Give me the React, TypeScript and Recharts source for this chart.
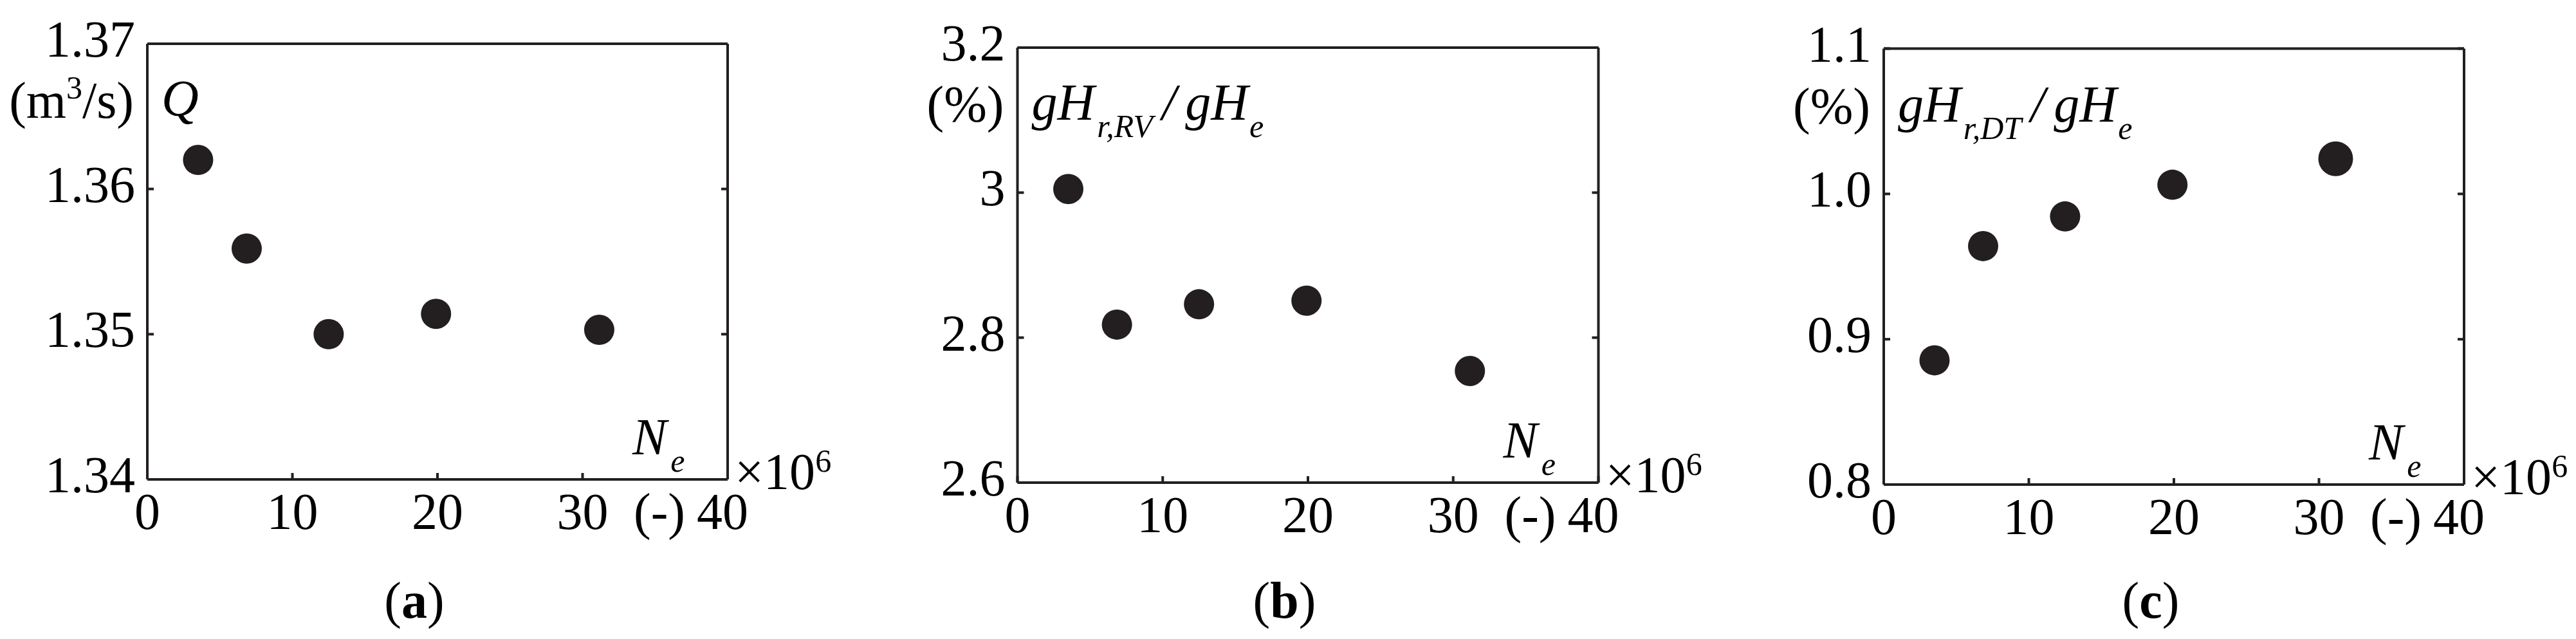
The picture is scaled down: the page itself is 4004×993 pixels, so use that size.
import React from "react";
import { Scatter, ScatterChart, XAxis, YAxis } from "recharts";

// mesh cell counts (x1e6), shared by the three panels
const meshSizes = [3.5, 6.85, 12.5, 19.9, 31.15];
const flowRate = [1.362, 1.3559, 1.35, 1.3514, 1.3503];
const lossRunner = [3.005, 2.818, 2.846, 2.851, 2.754];
const lossDraftTube = [0.8855, 0.9641, 0.9845, 1.0063, 1.0242];

const xTicks = [0, 10, 20, 30, 40];
const qTicks = [1.34, 1.35, 1.36, 1.37];
const qTickLabels = ["1.34", "1.35", "1.36", "1.37"];
const rvTicks = [2.6, 2.8, 3.0, 3.2];
const rvTickLabels = ["2.6", "2.8", "3", "3.2"];
const dtTicks = [0.8, 0.9, 1.0, 1.1];
const dtTickLabels = ["0.8", "0.9", "1.0", "1.1"];

const H = 993;
const INK = "#231f20";
const FONT = "'Liberation Serif', 'Times New Roman', serif";
const lineStyle = { stroke: INK, strokeWidth: 4 };

type Box = { l: number; r: number; t: number; b: number };

type PanelProps = {
  left: number;
  width: number;
  box: Box;
  yValues: number[];
  yDomain: [number, number];
  yTicks: number[];
  yLabels: string[];
  bigIndex?: number;
  letter: string;
  unit: React.ReactNode;
  unitBaseline: number;
  title: React.ReactNode;
  titleBaseline: number;
};

function Panel(p: PanelProps) {
  const { box } = p;
  const data = meshSizes.map((x, i) => ({ x, y: p.yValues[i] }));

  const yTick = (props: any) => {
    const v = props.payload?.value;
    const i = p.yTicks.findIndex((t) => Math.abs(t - v) < 1e-9);
    return (
      <text x={props.x} y={props.y + 20} textAnchor="end" fontSize={80} fontFamily={FONT} fill="#000">
        {i >= 0 ? p.yLabels[i] : v}
      </text>
    );
  };

  const xTick = (props: any) => {
    const v = props.payload?.value;
    if (v === 40) {
      return (
        <g>
          <text x={props.x - 66} y={props.y + 77} textAnchor="end" fontSize={80} fontFamily={FONT} fill="#000">(-)</text>
          <text x={props.x - 48} y={props.y + 77} textAnchor="start" fontSize={80} fontFamily={FONT} fill="#000">40</text>
        </g>
      );
    }
    return (
      <text x={props.x} y={props.y + 77} textAnchor="middle" fontSize={80} fontFamily={FONT} fill="#000">
        {v}
      </text>
    );
  };

  const dot = (props: any) => {
    const r = props.index === p.bigIndex ? 27 : 23.5;
    return <circle cx={props.cx} cy={props.cy} r={r} fill={INK} />;
  };

  const noTick = () => <g />;

  return (
    <div style={{ position: "absolute", left: p.left, top: 0, width: p.width, height: H }}>
      <ScatterChart
        width={p.width}
        height={H}
        margin={{ top: box.t - 20, bottom: H - box.b - 60, left: box.l - 100, right: p.width - box.r - 20 }}
      >
        <XAxis
          xAxisId="bottom"
          type="number"
          dataKey="x"
          domain={[0, 40]}
          ticks={xTicks}
          interval={0}
          height={60}
          tickSize={-10}
          tickMargin={10}
          axisLine={lineStyle}
          tickLine={lineStyle}
          tick={xTick}
          allowDataOverflow
        />
        <XAxis
          xAxisId="top"
          orientation="top"
          type="number"
          domain={[0, 40]}
          ticks={xTicks}
          interval={0}
          height={20}
          tickSize={-10}
          axisLine={lineStyle}
          tickLine={lineStyle}
          tick={noTick}
          allowDataOverflow
        />
        <YAxis
          yAxisId="left"
          type="number"
          dataKey="y"
          domain={p.yDomain}
          ticks={p.yTicks}
          interval={0}
          width={100}
          tickSize={-10}
          tickMargin={29}
          axisLine={lineStyle}
          tickLine={lineStyle}
          tick={yTick}
          allowDataOverflow
        />
        <YAxis
          yAxisId="right"
          orientation="right"
          type="number"
          domain={p.yDomain}
          ticks={p.yTicks}
          interval={0}
          width={20}
          tickSize={-10}
          axisLine={lineStyle}
          tickLine={lineStyle}
          tick={noTick}
          allowDataOverflow
        />
        <Scatter data={data} xAxisId="bottom" yAxisId="left" shape={dot} isAnimationActive={false} />
      </ScatterChart>
      <svg
        width={p.width}
        height={H}
        style={{ position: "absolute", left: 0, top: 0, overflow: "visible", pointerEvents: "none" }}
        fontFamily={FONT}
        fill="#000"
      >
        <text x={box.l - 21} y={p.unitBaseline} textAnchor="end" fontSize={80}>
          {p.unit}
        </text>
        <text x={box.l + 22} y={p.titleBaseline} fontSize={80} fontStyle="italic">
          {p.title}
        </text>
        <text x={box.r - 148} y={box.b - 39} fontSize={80} fontStyle="italic">
          N
          <tspan fontSize={50} dx={6} dy={27}>e</tspan>
        </text>
        <text x={box.r + 11} y={box.b + 15} fontSize={80}>
          ×10
          <tspan fontSize={50} dy={-27}>6</tspan>
        </text>
        <text x={box.l + 415} y={960} textAnchor="middle" fontSize={80}>
          (<tspan fontWeight="bold">{p.letter}</tspan>)
        </text>
      </svg>
    </div>
  );
}

export default function App() {
  return (
    <div style={{ position: "absolute", left: 0, top: 0, width: 4004, height: H, background: "#fff", overflow: "hidden" }}>
      <Panel
        left={0}
        width={1330}
        box={{ l: 229, r: 1131, t: 68, b: 745 }}
        yValues={flowRate}
        yDomain={[1.34, 1.37]}
        yTicks={qTicks}
        yLabels={qTickLabels}
        letter="a"
        unit={
          <>
            (m<tspan fontSize={50} dy={-30}>3</tspan>
            <tspan dy={30}>/s)</tspan>
          </>
        }
        unitBaseline={183}
        title={<>Q</>}
        titleBaseline={180}
      />
      <Panel
        left={1330}
        width={1330}
        box={{ l: 251.5, r: 1154.5, t: 74, b: 750 }}
        yValues={lossRunner}
        yDomain={[2.6, 3.2]}
        yTicks={rvTicks}
        yLabels={rvTickLabels}
        letter="b"
        unit={<>(%)</>}
        unitBaseline={189}
        title={
          <>
            gH<tspan fontSize={50} dx={4} dy={27}>r,RV</tspan>
            <tspan fontSize={80} dx={14} dy={-27}>/</tspan>
            <tspan dx={14}>gH</tspan>
            <tspan fontSize={50} dx={2} dy={27}>e</tspan>
          </>
        }
        titleBaseline={186}
      />
      <Panel
        left={2660}
        width={1344}
        box={{ l: 268, r: 1170, t: 75.5, b: 753 }}
        yValues={lossDraftTube}
        yDomain={[0.8, 1.1]}
        yTicks={dtTicks}
        yLabels={dtTickLabels}
        bigIndex={4}
        letter="c"
        unit={<>(%)</>}
        unitBaseline={192}
        title={
          <>
            gH<tspan fontSize={50} dx={4} dy={27}>r,DT</tspan>
            <tspan fontSize={80} dx={14} dy={-27}>/</tspan>
            <tspan dx={14}>gH</tspan>
            <tspan fontSize={50} dx={2} dy={27}>e</tspan>
          </>
        }
        titleBaseline={189}
      />
    </div>
  );
}
